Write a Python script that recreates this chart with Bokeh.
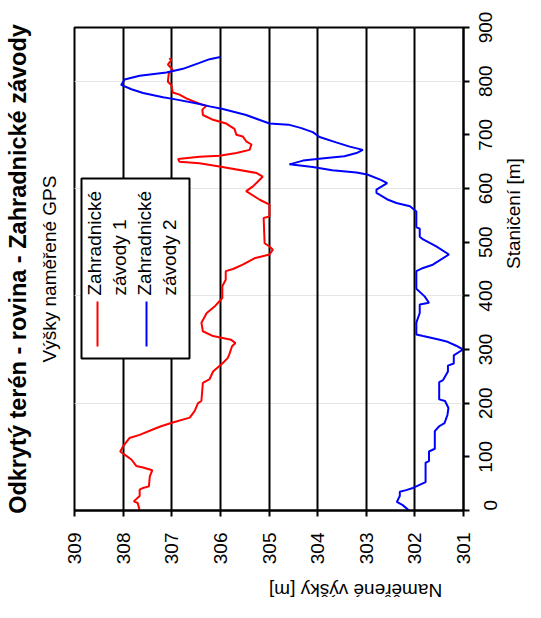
import math
from bokeh.plotting import figure
from bokeh.models import Range1d, FixedTicker, LinearAxis, Label, BoxAnnotation, Grid, Title
from bokeh.embed import file_html
from bokeh.resources import INLINE

# ---- data ----
stations_1 = [0, 14, 17, 27, 39, 42, 45, 64, 75, 80, 83, 95, 104, 110, 121, 135, 141, 151, 157, 164,
              173, 185, 200, 204, 238, 245, 259, 274, 284, 290, 306, 312, 318, 325, 334, 350, 368, 380,
              396, 418, 430, 446, 450, 458, 470, 477, 486, 492, 498, 545, 548, 570, 579, 595, 604, 622,
              629, 641, 647, 650, 655, 659, 661, 666, 672, 682, 688, 697, 700, 711, 721, 728, 737, 747,
              754, 758, 768, 775, 779, 793, 799, 815, 821, 831, 839, 843]
heights_1 = [307.66, 307.70, 307.78, 307.66, 307.66, 307.59, 307.47, 307.45, 307.40, 307.59, 307.73,
             307.83, 307.97, 308.06, 307.99, 307.87, 307.66, 307.39, 307.22, 306.98, 306.63, 306.53,
             306.46, 306.39, 306.36, 306.22, 306.15, 305.96, 305.85, 305.82, 305.76, 305.69, 305.78,
             306.15, 306.36, 306.39, 306.28, 306.12, 305.96, 305.96, 305.89, 305.89, 305.74, 305.54,
             305.30, 304.99, 304.92, 304.99, 305.09, 305.11, 304.99, 304.99, 305.19, 305.47, 305.33,
             305.13, 305.26, 306.02, 306.43, 306.84, 306.87, 306.43, 306.02, 305.67, 305.40, 305.36,
             305.47, 305.54, 305.67, 305.71, 305.88, 306.15, 306.36, 306.37, 306.29, 306.43, 306.70,
             306.84, 306.98, 307.01, 307.08, 307.06, 306.98, 307.08, 307.01, 307.05]

stations_2 = [0, 10, 16, 27, 35, 38, 42, 45, 53, 89, 92, 110, 115, 148, 157, 163, 173, 178, 191, 204,
              207, 239, 243, 259, 270, 274, 289, 300, 307, 315, 318, 325, 328, 350, 368, 384, 387, 399,
              413, 446, 452, 458, 477, 492, 505, 510, 525, 528, 557, 567, 573, 579, 588, 592, 598, 610,
              616, 626, 630, 634, 640, 645, 652, 657, 660, 666, 672, 678, 686, 696, 705, 713, 719, 721,
              737, 748, 753, 759, 767, 770, 778, 785, 793, 803, 810, 816, 823, 834, 841, 845]
heights_2 = [302.12, 302.25, 302.37, 302.31, 302.31, 302.18, 302.04, 301.97, 301.78, 301.78, 301.71,
             301.71, 301.59, 301.59, 301.50, 301.39, 301.35, 301.33, 301.31, 301.38, 301.50, 301.50,
             301.42, 301.32, 301.32, 301.20, 301.20, 301.01, 301.15, 301.35, 301.49, 301.83, 301.97,
             301.97, 301.90, 301.90, 301.71, 301.80, 301.97, 301.97, 301.83, 301.63, 301.30, 301.56,
             301.83, 301.90, 301.90, 301.97, 301.97, 302.10, 302.38, 302.55, 302.72, 302.79, 302.79,
             302.57, 302.70, 302.98, 303.20, 303.70, 304.10, 304.58, 304.30, 303.82, 303.45, 303.20,
             303.07, 303.34, 303.62, 303.96, 304.10, 304.35, 304.60, 304.99, 305.47, 305.95, 306.22,
             306.50, 306.98, 307.18, 307.59, 307.83, 308.04, 307.97, 307.66, 307.11, 306.77, 306.43,
             306.22, 306.00]

height_ticks = [309, 308, 307, 306, 305, 304, 303, 302, 301]
station_ticks = [0, 100, 200, 300, 400, 500, 600, 700, 800, 900]

title_text = "Odkrytý terén - rovina - Zahradnické závody"
subtitle_text = "Výšky naměřené GPS"
station_title = "Staničení [m]"
height_title = "Naměřené výšky [m]"
legend_lines_1 = ["Zahradnické", "závody 1"]
legend_lines_2 = ["Zahradnické", "závody 2"]

RED = "#FF0000"
BLUE = "#0000FF"
FONT = "Liberation Sans"
FS_PX = 19
FS = f"{FS_PX}px"
UP = math.pi / 2

FRAME_H = 483  # frame height in px
B_LEFT, B_RIGHT, B_TOP, B_BOTTOM = 74, 77, 27, 104
FRAME_W = 389

p = figure(width=B_LEFT + FRAME_W + B_RIGHT, height=B_TOP + FRAME_H + B_BOTTOM,
           output_backend="svg", toolbar_location=None,
           x_range=Range1d(height_ticks[0], height_ticks[-1]),
           y_range=Range1d(station_ticks[0], station_ticks[-1]),
           x_axis_location=None, y_axis_location=None,
           min_border_left=B_LEFT, min_border_right=B_RIGHT,
           min_border_top=B_TOP, min_border_bottom=B_BOTTOM)
p.background_fill_color = "white"
p.border_fill_color = "white"
p.outline_line_color = "black"
p.outline_line_width = 2

# the right-axis numbers read upward and Bokeh starts them at the tick;
# a shifted helper range centres each 3-digit number on its tick
half_label_px = 3 * 0.556 * FS_PX / 2
shift = half_label_px * (station_ticks[-1] - station_ticks[0]) / FRAME_H
p.extra_y_ranges = {"lab": Range1d(station_ticks[0] + shift, station_ticks[-1] + shift)}

p.add_layout(Grid(dimension=0, ticker=FixedTicker(ticks=height_ticks),
                  grid_line_color="black", grid_line_width=2))


def style_axis(ax, standoff):
    ax.axis_line_color = "black"
    ax.axis_line_width = 2
    ax.major_tick_line_color = "black"
    ax.major_tick_line_width = 2
    ax.major_tick_out = 6
    ax.major_tick_in = 0
    ax.minor_tick_out = 0
    ax.minor_tick_in = 0
    ax.major_label_orientation = UP
    ax.major_label_text_font = FONT
    ax.major_label_text_font_size = FS
    ax.major_label_text_color = "black"
    ax.major_label_standoff = standoff
    ax.axis_label_text_font = FONT
    ax.axis_label_text_font_size = FS
    ax.axis_label_text_font_style = "normal"
    ax.axis_label_text_color = "black"


xax = LinearAxis(ticker=FixedTicker(ticks=height_ticks), axis_label=height_title)
style_axis(xax, 16)
xax.axis_label_orientation = math.pi
xax.axis_label_standoff = 23
p.add_layout(xax, "below")

# right axis: line, ticks and the single-digit "0"
yax = LinearAxis(ticker=FixedTicker(ticks=station_ticks))
style_axis(yax, 21)
yax.major_label_overrides = {t: ("" if t != station_ticks[0] else str(t)) for t in station_ticks}
p.add_layout(yax, "right")

# right axis numbers 100..900 plus the axis title
yax2 = LinearAxis(ticker=FixedTicker(ticks=station_ticks[1:]), y_range_name="lab",
                  axis_label=station_title)
style_axis(yax2, -21)
yax2.axis_line_alpha = 0
yax2.major_tick_out = 0
yax2.major_tick_line_alpha = 0
yax2.axis_label_orientation = UP
yax2.axis_label_standoff = 12
p.add_layout(yax2, "right")

p.line(heights_1, stations_1, line_color=RED, line_width=2)
p.line(heights_2, stations_2, line_color=BLUE, line_width=2)

# titles (left side, reading upward)
p.add_layout(Title(text=subtitle_text, align="center", text_font=FONT, text_font_size=FS,
                   text_font_style="normal", text_color="black", offset=-15, standoff=29), "left")
p.add_layout(Title(text=title_text, align="center", text_font=FONT, text_font_size="23.5px",
                   text_font_style="bold", text_color="black", offset=-4, standoff=-17), "left")


def lab(text, x, y, angle, size=FS, align="center"):
    p.add_layout(Label(x=x, y=y, x_units="screen", y_units="screen", text=text, angle=angle,
                       text_align=align, text_baseline="middle", text_font=FONT,
                       text_font_size=size, text_color="black"))


# legend
p.add_layout(BoxAnnotation(left=7, right=115, bottom=152, top=332,
                           left_units="screen", right_units="screen",
                           bottom_units="screen", top_units="screen",
                           fill_color="white", fill_alpha=1.0,
                           line_color="black", line_width=2, line_alpha=1.0))
for cx, col in ((23, RED), (72, BLUE)):
    p.add_layout(BoxAnnotation(left=cx - 1, right=cx + 1, bottom=164, top=209,
                               left_units="screen", right_units="screen",
                               bottom_units="screen", top_units="screen",
                               fill_color=col, fill_alpha=1.0, line_alpha=0))
for (cx, txt) in ((20, legend_lines_1[0]), (45, legend_lines_1[1]),
                  (70, legend_lines_2[0]), (95, legend_lines_2[1])):
    lab(txt, cx, 215, UP, align="left")

open("out.html", "w").write(file_html(p, INLINE))
